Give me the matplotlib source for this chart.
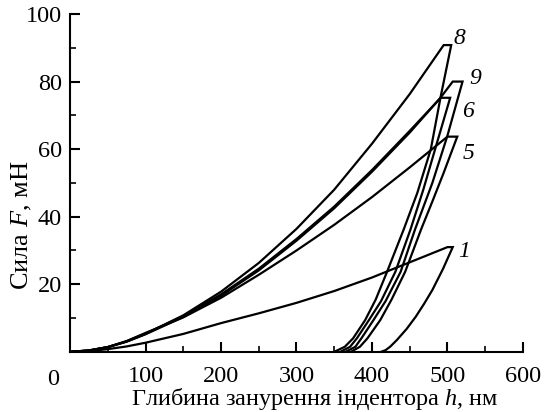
import matplotlib
matplotlib.use('Agg')
import matplotlib.pyplot as plt
from matplotlib.ticker import MultipleLocator

plt.rcParams['font.family'] = ['Liberation Serif', 'DejaVu Serif']
plt.rcParams['mathtext.fontset'] = 'custom'
plt.rcParams['mathtext.rm'] = 'Liberation Serif'
plt.rcParams['mathtext.it'] = 'Liberation Serif:italic'

# loading branches (depth h, nm; force F, mN)
h_load_1 = [0, 25, 50, 75, 100, 150, 200, 250, 300, 350, 400, 450, 500]
f_load_1 = [0, 0.2, 0.8, 1.6, 2.7, 5.3, 8.5, 11.4, 14.5, 18.0, 22.0, 26.5, 31.0]
h_load_5 = [0, 25, 50, 75, 100, 150, 200, 250, 300, 350, 400, 450, 500]
f_load_5 = [0, 0.4, 1.4, 3.2, 5.6, 10.2, 16.0, 22.8, 30.0, 37.6, 45.8, 54.6, 63.7]
h_load_6 = [0, 25, 50, 75, 100, 150, 200, 250, 300, 350, 400, 450, 491]
f_load_6 = [0, 0.4, 1.4, 3.1, 5.4, 10.6, 17.0, 24.6, 33.4, 43.0, 53.8, 65.4, 75.2]
h_load_8 = [0, 25, 50, 75, 100, 150, 200, 250, 300, 350, 400, 450, 495]
f_load_8 = [0, 0.4, 1.4, 3.1, 5.3, 10.8, 17.8, 26.3, 36.4, 48.0, 61.6, 76.3, 90.8]
h_load_9 = [0, 25, 50, 75, 100, 150, 200, 250, 300, 350, 400, 450, 490, 507]
f_load_9 = [0, 0.4, 1.4, 3.0, 5.2, 10.3, 16.6, 24.1, 32.9, 42.5, 53.3, 64.9, 75.0, 80.0]

# unloading branches (start at end of hold)
h_unl_1 = [507, 494, 480, 469, 458, 446, 433, 424, 418, 412]
f_unl_1 = [31.0, 24.5, 18.3, 14.2, 10.4, 6.8, 3.5, 1.5, 0.5, 0]
h_unl_5 = [513, 495, 480, 465, 444, 426, 411, 394, 384, 372]
f_unl_5 = [63.7, 53.0, 44.5, 36.2, 23.7, 15.5, 9.4, 4.0, 1.5, 0]
h_unl_6 = [503.6, 485, 468, 451, 431, 412, 396, 380, 371, 358]
f_unl_6 = [75.2, 61.0, 48.0, 36.2, 23.7, 15.0, 9.4, 4.0, 1.5, 0]
h_unl_8 = [505, 491, 478, 460, 442, 420, 405, 391, 375, 364, 350]
f_unl_8 = [90.8, 75.5, 60.0, 47.0, 36.2, 23.7, 15.5, 9.4, 4.0, 1.5, 0]
h_unl_9 = [520, 500, 480, 457, 438, 418, 402, 386, 378, 365]
f_unl_9 = [80.0, 64.0, 50.0, 36.2, 23.7, 15.0, 9.4, 4.0, 1.5, 0]

labels = ['1', '5', '6', '8', '9']
label_pos = [(522, 29.6), (528, 58.8), (527, 71), (516, 92.8), (537, 81)]

curves = [
    (h_load_1, f_load_1, h_unl_1, f_unl_1),
    (h_load_5, f_load_5, h_unl_5, f_unl_5),
    (h_load_6, f_load_6, h_unl_6, f_unl_6),
    (h_load_8, f_load_8, h_unl_8, f_unl_8),
    (h_load_9, f_load_9, h_unl_9, f_unl_9),
]

fig = plt.figure(figsize=(5.47, 4.12), dpi=100)
ax = fig.add_axes([0.128, 0.146, 0.828, 0.82])

for hl, fl, hu, fu in curves:
    # loading, hold at peak force, unloading
    hh = list(hl) + list(hu)
    ff = list(fl) + [fl[-1]] + list(fu[1:])
    ax.plot(hh, ff, color='black', lw=1.6, solid_joinstyle='miter')

for lab, (x, y) in zip(labels, label_pos):
    ax.text(x, y, lab, fontsize=17, style='italic', ha='center', va='center')

ax.set_xlim(0, 600)
ax.set_ylim(0, 100)
ax.spines['top'].set_visible(False)
ax.spines['right'].set_visible(False)
ax.spines['left'].set_linewidth(1.5)
ax.spines['bottom'].set_linewidth(1.5)

ax.xaxis.set_major_locator(MultipleLocator(100))
ax.xaxis.set_minor_locator(MultipleLocator(50))
ax.yaxis.set_major_locator(MultipleLocator(20))
ax.yaxis.set_minor_locator(MultipleLocator(10))
ax.tick_params(which='major', direction='in', length=7, width=1.5, labelsize=17.5)
ax.tick_params(axis='x', which='major', pad=10)
ax.tick_params(axis='y', which='major', pad=6)
ax.tick_params(which='minor', direction='in', length=4, width=1.2)
ax.set_xticks([100, 200, 300, 400, 500, 600])
ax.set_yticks([20, 40, 60, 80, 100])
ax.annotate('0', xy=(0, 0), xytext=(-12, -12), textcoords='offset points',
            ha='center', va='top', fontsize=17.5)

ax.set_xlabel(r'Глибина занурення індентора $\mathit{h}$, нм', fontsize=17.5)
ax.set_ylabel(r'Сила $\mathit{F}$, мН', fontsize=19)
ax.xaxis.set_label_coords(0.541, -0.1)
ax.yaxis.set_label_coords(-0.08, 0.375)

fig.savefig('out.png', dpi=100)
